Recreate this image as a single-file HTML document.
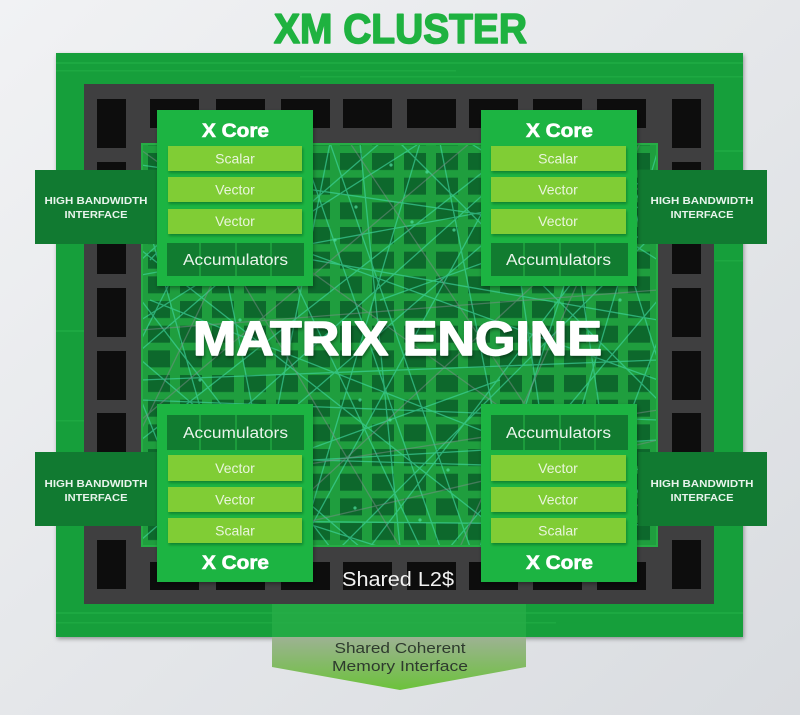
<!DOCTYPE html>
<html><head><meta charset="utf-8"><style>
html,body{margin:0;padding:0;width:800px;height:715px;overflow:hidden;background:#e8eaed}
svg{display:block}
text{font-family:"Liberation Sans",sans-serif}
</style></head><body>
<svg width="800" height="715" viewBox="0 0 800 715" xmlns="http://www.w3.org/2000/svg">
<defs>
<linearGradient id="bg" x1="0" y1="0" x2="1" y2="1">
<stop offset="0" stop-color="#f1f2f4"/><stop offset="1" stop-color="#d9dce0"/>
</linearGradient>
<linearGradient id="arr" x1="0" y1="0" x2="0" y2="1">
<stop offset="0" stop-color="#9db293"/><stop offset="1" stop-color="#6cc23b"/>
</linearGradient>
<pattern id="grid" x="148" y="153" width="32" height="24.67" patternUnits="userSpaceOnUse">
<rect x="0" y="0" width="22" height="17" fill="#0d682c"/>
</pattern>
<clipPath id="mclip"><rect x="141" y="143" width="517" height="404"/></clipPath>
<filter id="sh" x="-10%" y="-10%" width="130%" height="130%">
<feDropShadow dx="1" dy="2" stdDeviation="2" flood-color="#000" flood-opacity="0.35"/>
</filter>
<filter id="sh2" x="-10%" y="-20%" width="130%" height="160%">
<feDropShadow dx="1" dy="2" stdDeviation="1.2" flood-color="#0a4a1a" flood-opacity="0.45"/>
</filter>
<filter id="tsh" x="-5%" y="-20%" width="110%" height="140%">
<feDropShadow dx="1" dy="2" stdDeviation="1.5" flood-color="#000" flood-opacity="0.4"/>
</filter>
</defs>
<rect width="800" height="715" fill="url(#bg)"/>

<!-- Title -->
<text x="274" y="43" font-size="42" font-weight="bold" fill="#1fb240" stroke="#1fb240" stroke-width="1.6" stroke-linejoin="round" textLength="253" lengthAdjust="spacingAndGlyphs">XM CLUSTER</text>

<!-- Outer green -->
<rect x="56" y="53" width="687" height="584" fill="#189f3b" filter="url(#sh)"/>
<g opacity="0.3" fill="#2fc052">
<rect x="56" y="62" width="687" height="2"/><rect x="56" y="70" width="400" height="1.5"/>
<rect x="300" y="76" width="443" height="1.5"/><rect x="715" y="150" width="28" height="2"/>
<rect x="715" y="260" width="28" height="1.5"/><rect x="56" y="330" width="28" height="2"/>
<rect x="56" y="420" width="28" height="1.5"/><rect x="56" y="612" width="687" height="2"/>
<rect x="56" y="622" width="500" height="1.5"/><rect x="715" y="520" width="28" height="2"/>
</g>

<!-- Gray frame -->
<rect x="84" y="84" width="630" height="520" fill="#3f3f40"/>

<!-- Black blocks -->
<g fill="#0d0d0d">
<rect x="150" y="99" width="49" height="29"/><rect x="216" y="99" width="49" height="29"/>
<rect x="281" y="99" width="49" height="29"/><rect x="343" y="99" width="49" height="29"/>
<rect x="407" y="99" width="49" height="29"/><rect x="469" y="99" width="49" height="29"/>
<rect x="533" y="99" width="49" height="29"/><rect x="597" y="99" width="49" height="29"/>
<rect x="150" y="562" width="49" height="28"/><rect x="216" y="562" width="49" height="28"/>
<rect x="281" y="562" width="49" height="28"/><rect x="343" y="562" width="49" height="28"/>
<rect x="407" y="562" width="49" height="28"/><rect x="469" y="562" width="49" height="28"/>
<rect x="533" y="562" width="49" height="28"/><rect x="597" y="562" width="49" height="28"/>
<rect x="97" y="99" width="29" height="49"/><rect x="97" y="162" width="29" height="49"/>
<rect x="97" y="225" width="29" height="49"/><rect x="97" y="288" width="29" height="49"/>
<rect x="97" y="351" width="29" height="49"/><rect x="97" y="413" width="29" height="49"/>
<rect x="97" y="476" width="29" height="49"/><rect x="97" y="540" width="29" height="49"/>
<rect x="672" y="99" width="29" height="49"/><rect x="672" y="162" width="29" height="49"/>
<rect x="672" y="225" width="29" height="49"/><rect x="672" y="288" width="29" height="49"/>
<rect x="672" y="351" width="29" height="49"/><rect x="672" y="413" width="29" height="49"/>
<rect x="672" y="476" width="29" height="49"/><rect x="672" y="540" width="29" height="49"/>
</g>

<!-- Matrix area -->
<rect x="141" y="143" width="517" height="404" fill="#1f9e3e"/>
<rect x="141" y="143" width="517" height="404" fill="url(#grid)"/>
<g clip-path="url(#mclip)" fill="none" stroke-width="1.3">
<g stroke="#3fd6a0" opacity="0.65">
<line x1="141" y1="180" x2="300" y2="143"/><line x1="150" y1="260" x2="260" y2="143"/>
<line x1="141" y1="320" x2="420" y2="143"/><line x1="200" y1="547" x2="141" y2="400"/>
<line x1="141" y1="470" x2="380" y2="547"/><line x1="250" y1="547" x2="330" y2="143"/>
<line x1="300" y1="547" x2="520" y2="143"/><line x1="400" y1="547" x2="360" y2="143"/>
<line x1="450" y1="547" x2="658" y2="300"/><line x1="520" y1="547" x2="440" y2="143"/>
<line x1="600" y1="547" x2="658" y2="460"/><line x1="658" y1="200" x2="380" y2="300"/>
<line x1="658" y1="380" x2="300" y2="250"/><line x1="141" y1="230" x2="658" y2="320"/>
<line x1="141" y1="400" x2="658" y2="420"/><line x1="141" y1="510" x2="500" y2="380"/>
<line x1="200" y1="143" x2="280" y2="547"/><line x1="560" y1="143" x2="620" y2="547"/>
<line x1="610" y1="143" x2="480" y2="547"/><line x1="141" y1="300" x2="330" y2="547"/>
<line x1="658" y1="150" x2="540" y2="547"/><line x1="380" y1="143" x2="141" y2="350"/>
<line x1="470" y1="143" x2="658" y2="260"/><line x1="230" y1="143" x2="420" y2="547"/>
<line x1="341" y1="547" x2="658" y2="230"/><line x1="141" y1="540" x2="600" y2="143"/>
<line x1="141" y1="200" x2="240" y2="547"/><line x1="658" y1="500" x2="150" y2="300"/>
<line x1="500" y1="143" x2="560" y2="547"/><line x1="270" y1="143" x2="141" y2="260"/>
<line x1="400" y1="143" x2="658" y2="400"/><line x1="141" y1="440" x2="520" y2="143"/>
<line x1="580" y1="547" x2="658" y2="340"/><line x1="300" y1="143" x2="440" y2="547"/>
<line x1="141" y1="360" x2="360" y2="547"/><line x1="541" y1="143" x2="141" y2="500"/>
<line x1="141" y1="275" x2="658" y2="180"/><line x1="141" y1="380" x2="658" y2="360"/>
<line x1="141" y1="455" x2="658" y2="470"/><line x1="141" y1="520" x2="658" y2="525"/>
<line x1="330" y1="143" x2="470" y2="547"/><line x1="420" y1="143" x2="300" y2="547"/>
<line x1="141" y1="165" x2="658" y2="240"/><line x1="658" y1="440" x2="141" y2="470"/>
<line x1="590" y1="143" x2="658" y2="360"/><line x1="141" y1="340" x2="240" y2="143"/>
<line x1="370" y1="547" x2="658" y2="170"/><line x1="520" y1="547" x2="141" y2="250"/>
</g>
<g stroke="#7d8f8b" opacity="0.5">
<line x1="141" y1="150" x2="658" y2="520"/><line x1="200" y1="547" x2="658" y2="440"/>
<line x1="160" y1="143" x2="400" y2="547"/><line x1="658" y1="170" x2="250" y2="547"/>
<line x1="350" y1="143" x2="620" y2="547"/><line x1="141" y1="420" x2="470" y2="143"/>
<line x1="658" y1="290" x2="141" y2="330"/><line x1="460" y1="547" x2="640" y2="143"/>
<line x1="141" y1="490" x2="658" y2="410"/><line x1="280" y1="143" x2="141" y2="430"/>
</g>
<g fill="#4fe0a2" stroke="none" opacity="0.7">
<circle cx="391" cy="165" r="1.6"/><circle cx="427" cy="172" r="1.6"/><circle cx="356" cy="207" r="1.6"/>
<circle cx="412" cy="222" r="1.6"/><circle cx="335" cy="240" r="1.6"/><circle cx="454" cy="230" r="1.6"/>
<circle cx="360" cy="400" r="1.6"/><circle cx="390" cy="420" r="1.6"/><circle cx="448" cy="470" r="1.6"/>
<circle cx="355" cy="508" r="1.6"/><circle cx="420" cy="520" r="1.6"/><circle cx="240" cy="320" r="1.6"/>
<circle cx="560" cy="330" r="1.6"/><circle cx="600" cy="410" r="1.6"/><circle cx="200" cy="380" r="1.6"/>
<circle cx="620" cy="300" r="1.6"/><circle cx="180" cy="470" r="1.6"/><circle cx="500" cy="500" r="1.6"/>
</g>
</g>
<rect x="142" y="144" width="515" height="402" fill="none" stroke="#26ad45" stroke-width="2"/>

<!-- HBIs -->
<g fill="#117a31">
<rect x="35" y="170" width="123" height="74"/><rect x="35" y="452" width="123" height="74"/>
<rect x="638" y="170" width="129" height="74"/><rect x="638" y="452" width="129" height="74"/>
</g>
<g font-size="10.5" font-weight="bold" fill="#e8f4ec" text-anchor="middle">
<text x="96" y="204" textLength="103" lengthAdjust="spacingAndGlyphs">HIGH BANDWIDTH</text><text x="96" y="218" textLength="63" lengthAdjust="spacingAndGlyphs">INTERFACE</text>
<text x="96" y="487" textLength="103" lengthAdjust="spacingAndGlyphs">HIGH BANDWIDTH</text><text x="96" y="501" textLength="63" lengthAdjust="spacingAndGlyphs">INTERFACE</text>
<text x="702" y="204" textLength="103" lengthAdjust="spacingAndGlyphs">HIGH BANDWIDTH</text><text x="702" y="218" textLength="63" lengthAdjust="spacingAndGlyphs">INTERFACE</text>
<text x="702" y="487" textLength="103" lengthAdjust="spacingAndGlyphs">HIGH BANDWIDTH</text><text x="702" y="501" textLength="63" lengthAdjust="spacingAndGlyphs">INTERFACE</text>
</g>

<!-- MATRIX ENGINE -->
<text x="193" y="355" font-size="48" font-weight="bold" fill="#ffffff" stroke="#ffffff" stroke-width="1.4" stroke-linejoin="round" textLength="409" lengthAdjust="spacingAndGlyphs" filter="url(#tsh)">MATRIX ENGINE</text>

<!-- X Cores -->
<g filter="url(#sh)" fill="#1fb442">
<rect x="157" y="110" width="156" height="176"/><rect x="481" y="110" width="156" height="176"/>
<rect x="157" y="404" width="156" height="178"/><rect x="481" y="404" width="156" height="178"/>
</g>

<g stroke="#ffffff" stroke-width="0.6">
<text x="202" y="137" font-size="19" font-weight="bold" fill="#ffffff" textLength="67" lengthAdjust="spacingAndGlyphs">X Core</text>
<text x="526" y="137" font-size="19" font-weight="bold" fill="#ffffff" textLength="67" lengthAdjust="spacingAndGlyphs">X Core</text>
<text x="202" y="569" font-size="19" font-weight="bold" fill="#ffffff" textLength="67" lengthAdjust="spacingAndGlyphs">X Core</text>
<text x="526" y="569" font-size="19" font-weight="bold" fill="#ffffff" textLength="67" lengthAdjust="spacingAndGlyphs">X Core</text>
</g>
<g fill="#80cd35" filter="url(#sh2)">
<rect x="168" y="146" width="134" height="25"/><rect x="168" y="177" width="134" height="25"/><rect x="168" y="209" width="134" height="25"/>
<rect x="491" y="146" width="135" height="25"/><rect x="491" y="177" width="135" height="25"/><rect x="491" y="209" width="135" height="25"/>
<rect x="168" y="455" width="134" height="26"/><rect x="168" y="487" width="134" height="25"/><rect x="168" y="518" width="134" height="25"/>
<rect x="491" y="455" width="135" height="26"/><rect x="491" y="487" width="135" height="25"/><rect x="491" y="518" width="135" height="25"/>
</g>
<g font-size="14" fill="#e9f5dc" text-anchor="middle">
<text x="235" y="163.5">Scalar</text><text x="235" y="194.5">Vector</text><text x="235" y="226">Vector</text>
<text x="558" y="163.5">Scalar</text><text x="558" y="194.5">Vector</text><text x="558" y="226">Vector</text>
<text x="235" y="473">Vector</text><text x="235" y="504.5">Vector</text><text x="235" y="535.5">Scalar</text>
<text x="558" y="473">Vector</text><text x="558" y="504.5">Vector</text><text x="558" y="535.5">Scalar</text>
</g>

<!-- Accumulators -->
<g fill="#117c30">
<rect x="167" y="243" width="137" height="33"/><rect x="491" y="243" width="137" height="33"/>
<rect x="167" y="415" width="137" height="35"/><rect x="491" y="415" width="137" height="35"/>
</g>
<g stroke="#1c9c3c" stroke-width="2">
<line x1="200" y1="243" x2="200" y2="276"/><line x1="236" y1="243" x2="236" y2="276"/><line x1="271" y1="243" x2="271" y2="276"/>
<line x1="524" y1="243" x2="524" y2="276"/><line x1="560" y1="243" x2="560" y2="276"/><line x1="595" y1="243" x2="595" y2="276"/>
<line x1="200" y1="415" x2="200" y2="450"/><line x1="236" y1="415" x2="236" y2="450"/><line x1="271" y1="415" x2="271" y2="450"/>
<line x1="524" y1="415" x2="524" y2="450"/><line x1="560" y1="415" x2="560" y2="450"/><line x1="595" y1="415" x2="595" y2="450"/>
</g>
<g font-size="15.5" fill="#eaf5ec">
<text x="183" y="265" textLength="105" lengthAdjust="spacingAndGlyphs">Accumulators</text>
<text x="506" y="265" textLength="105" lengthAdjust="spacingAndGlyphs">Accumulators</text>
<text x="183" y="438" textLength="105" lengthAdjust="spacingAndGlyphs">Accumulators</text>
<text x="506" y="438" textLength="105" lengthAdjust="spacingAndGlyphs">Accumulators</text>
</g>

<!-- Shared L2$ -->
<text x="342" y="586" font-size="20" fill="#f2f2f2" textLength="112" lengthAdjust="spacingAndGlyphs">Shared L2$</text>

<!-- Memory interface arrow -->
<rect x="272" y="604" width="254" height="33" fill="#27ad47" opacity="0.8"/>
<polygon points="272,637 526,637 526,667 400,690 272,667" fill="url(#arr)"/>
<g font-size="15" fill="#2e3a2e" text-anchor="middle">
<text x="400" y="653" textLength="131" lengthAdjust="spacingAndGlyphs">Shared Coherent</text>
<text x="400" y="671" textLength="136" lengthAdjust="spacingAndGlyphs">Memory Interface</text>
</g>
</svg>
</body></html>
